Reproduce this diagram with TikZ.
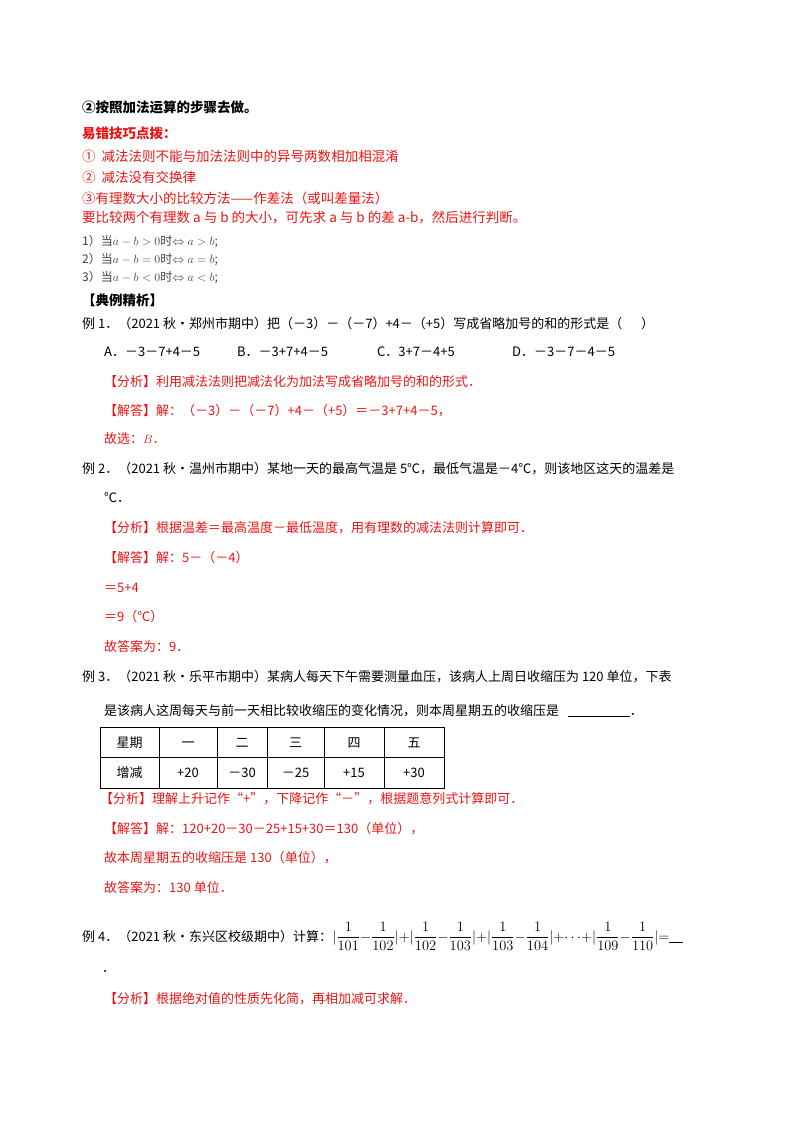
\documentclass[tikz,border=0pt]{standalone}
\usepackage{fontspec}
\setmainfont{Noto Sans CJK SC}
\definecolor{rd}{RGB}{235,20,20}
\begin{document}
\begin{tikzpicture}[x=1pt,y=-1pt,
  t/.style={anchor=base west,inner sep=0pt,font=\fontsize{13}{15}\selectfont},
  tb/.style={t,font=\fontsize{13.5}{15}\selectfont\bfseries},
  r/.style={t,text=rd},
  s/.style={anchor=base west,inner sep=0pt,font=\fontsize{12}{14}\selectfont,text=black!75}]
\useasboundingbox (0,0) rectangle (800,1132);
\node[tb] (l1) at (82,112) {②按照加法运算的步骤去做。};
\node[tb,text=rd] (l2) at (82,138) {易错技巧点拨：};
\node[t,text=rd,font=\fontsize{13.5}{15}\selectfont] (l3) at (82,161) {①\ \ 减法法则不能与加法法则中的异号两数相加相混淆};
\node[t,text=rd,font=\fontsize{13.5}{15}\selectfont] (l4) at (82,182) {②\ \ 减法没有交换律};
\node[t,text=rd,font=\fontsize{13.5}{15}\selectfont] (l5) at (82,203) {③有理数大小的比较方法——作差法（或叫差量法）};
\node[t,text=rd,font=\fontsize{13.5}{15}\selectfont] (l6) at (82,222) {要比较两个有理数 a 与 b 的大小，可先求 a 与 b 的差 a-b，然后进行判断。};
\node[s] (m1) at (82,245) {1）当$a-b>0$\textit{时}$\Leftrightarrow a>b$;};
\node[s] (m2) at (82,263) {2）当$a-b=0$\textit{时}$\Leftrightarrow a=b$;};
\node[s] (m3) at (82,281) {3）当$a-b<0$\textit{时}$\Leftrightarrow a<b$;};
\node[tb] (h) at (82,305) {【典例精析】};
\node[t] (e1) at (82,328) {例 1．（2021 秋•郑州市期中）把（－3）－（－7）+4－（+5）写成省略加号的和的形式是（\quad\ \ ）};
\node[t] (oa) at (104,356) {A．－3－7+4－5};
\node[t] (ob) at (237,356) {B．－3+7+4－5};
\node[t] (oc) at (377,356) {C．3+7－4+5};
\node[t] (od) at (512,356) {D．－3－7－4－5};
\node[r] (a1) at (104,386) {【分析】利用减法法则把减法化为加法写成省略加号的和的形式．};
\node[r] (b1) at (104,415) {【解答】解：（－3）－（－7）+4－（+5）＝－3+7+4－5，};
\node[r] (c1) at (104,443) {故选：$B$．};
\node[t] (e2) at (82,473) {例 2．（2021 秋•温州市期中）某地一天的最高气温是 5℃，最低气温是－4℃，则该地区这天的温差是};
\node[t] (e2b) at (104,502) {℃．};
\node[r] (a2) at (104,532) {【分析】根据温差＝最高温度－最低温度，用有理数的减法法则计算即可．};
\node[r] (b2) at (104,562) {【解答】解：5－（－4）};
\node[r] (c2) at (104,592) {＝5+4};
\node[r] (d2) at (104,621) {＝9（℃）};
\node[r] (f2) at (104,651) {故答案为：9．};
\node[t] (e3) at (82,681) {例 3．（2021 秋•乐平市期中）某病人每天下午需要测量血压，该病人上周日收缩压为 120 单位，下表};
\node[t] (e3b) at (104,715) {是该病人这周每天与前一天相比较收缩压的变化情况，则本周星期五的收缩压是\ \ \ \underline{\hspace{62pt}}．};
% table
\draw[line width=1pt] (100,727) rectangle (444,788);
\draw[line width=0.8pt] (100,757) -- (444,757);
\foreach \x in {159,217,267,324,384} \draw[line width=0.8pt] (\x,727) -- (\x,788);
\foreach \c/\a/\b [count=\i] in {129.5/星期/增减,188/一/+20,242/二/－30,295.5/三/－25,354/四/+15,414/五/+30}{
  \node[anchor=base,inner sep=0pt,font=\fontsize{13}{15}\selectfont] (ta\i) at (\c,747) {\a};
  \node[anchor=base,inner sep=0pt,font=\fontsize{13}{15}\selectfont] (tb\i) at (\c,777) {\b};
}
\node[r] (a3) at (100,803) {【分析】理解上升记作“+”，下降记作“－”，根据题意列式计算即可．};
\node[r] (b3) at (104,833) {【解答】解：120+20－30－25+15+30＝130（单位），};
\node[r] (c3) at (104,862) {故本周星期五的收缩压是 130（单位），};
\node[r] (d3) at (104,892) {故答案为：130 单位．};
\node[t] (e4) at (82,941) {例 4．（2021 秋•东兴区校级期中）计算：};
\node[anchor=base west,inner sep=0pt,font=\fontsize{15}{17}\selectfont] (e4m) at (e4.base east) {$\displaystyle |\frac{1}{101}{-}\frac{1}{102}|{+}|\frac{1}{102}{-}\frac{1}{103}|{+}|\frac{1}{103}{-}\frac{1}{104}|{+}{\cdots}{+}|\frac{1}{109}{-}\frac{1}{110}|{=}\underline{\hspace{14pt}}$};
\node[t] (e4b) at (102,972) {．};
\node[r] (a4) at (104,1003) {【分析】根据绝对值的性质先化简，再相加减可求解．};
\end{tikzpicture}
\end{document}
